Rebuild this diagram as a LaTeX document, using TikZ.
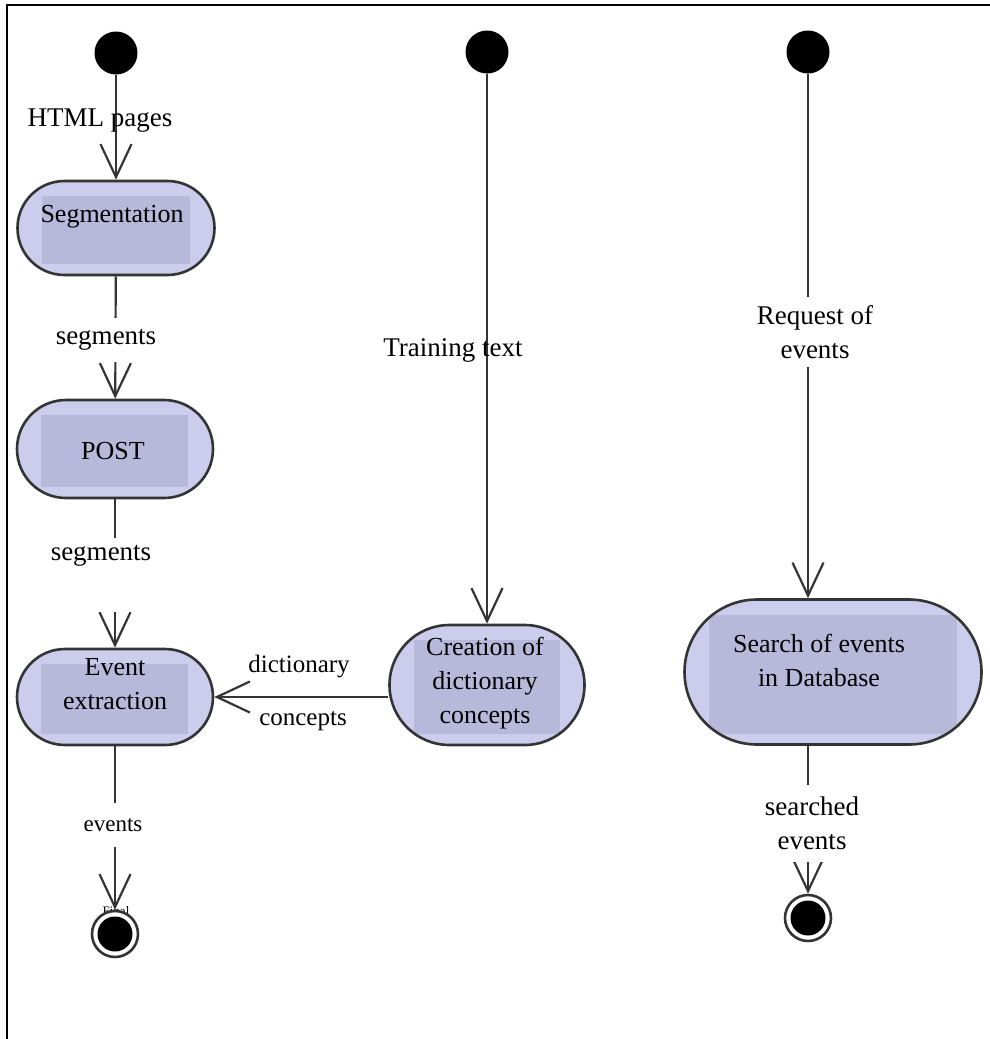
\documentclass[tikz,border=0pt]{standalone}
\usepackage{fontspec}
\setmainfont{Liberation Serif}
\usetikzlibrary{arrows.meta,shapes.misc}
\definecolor{lavout}{RGB}{204,204,236}
\definecolor{lavin}{RGB}{184,184,218}
\definecolor{edgegray}{RGB}{52,52,52}
\begin{document}
\begin{tikzpicture}[x=1pt,y=-1pt,
  act/.style={rounded rectangle, draw=edgegray, line width=2.6pt, fill=lavout, inner sep=0pt,
    path picture={\fill[lavin] ([shift={(24pt,11pt)}]path picture bounding box.south west) rectangle ([shift={(-25pt,-15pt)}]path picture bounding box.north east);}},
  txt/.style={align=center, inner sep=0pt, font=\fontsize{26}{34}\selectfont},
  lbl/.style={align=center, inner sep=0pt, font=\fontsize{27}{34}\selectfont},
  lblw/.style={lbl, fill=white, minimum width=112pt},
  startn/.style={circle, fill=black, minimum size=43pt, inner sep=0pt},
  endn/.style={circle, draw=edgegray, line width=2.6pt, fill=white, minimum size=46pt, inner sep=0pt,
    path picture={\fill[black] (path picture bounding box.center) circle (17.5pt);}},
  conn/.style={draw=edgegray, line width=2.2pt, -{Straight Barb[length=33pt,width=31pt]}},
  gapw/.style={fill=white, inner sep=0pt, minimum width=30pt}
]
\useasboundingbox (0,0) rectangle (990,1039);
% frame
\draw[line width=2pt, black] (990,5) -- (7,5) -- (7,1039);

% start nodes
\node[startn] (s1) at (116,53) {};
\node[startn] (s2) at (487,52) {};
\node[startn] (s3) at (808,52) {};

% activities
\node[act, minimum width=197pt, minimum height=94pt] (seg) at (116,228) {};
\node[txt] (segT) at (112,217) {Segmentation};
\node[act, minimum width=196pt, minimum height=98pt] (post) at (115,449) {};
\node[txt] (postT) at (113,451) {POST};
\node[act, minimum width=196pt, minimum height=96pt] (ext) at (115,697) {};
\node[txt] (extT) at (115,684) {Event\\extraction};
\node[act, minimum width=195pt, minimum height=120pt] (cre) at (487,685) {};
\node[txt] (creT) at (485,683) {Creation of\\dictionary\\concepts};
\node[act, minimum width=297pt, minimum height=145pt] (sea) at (833,672) {};
\node[txt] (seaT) at (819,660) {Search of events\\in Database};

% final text partly hidden behind end node
\node[inner sep=0pt, font=\fontsize{13}{13}\selectfont] (fin) at (116,911) {Final};

% end nodes
\node[endn] (e1) at (115,934) {};
\node[endn] (e2) at (808,918) {};

% connectors
\draw[conn] (s1) -- (seg);
\draw[conn] (seg) -- (post);
\draw[conn] (post) -- (ext);
\draw[conn] (ext) -- (e1);
\draw[conn] (s2) -- (cre);
\draw[conn] (ext.east -| cre.west) -- (ext.east);
\draw[conn] (s3) -- (sea.north -| s3);
\draw[conn] (sea.south -| s3) -- (e2);

% labels
\node[lbl] (l1) at (100,121) {HTML pages};
\node[lblw, minimum height=44pt] (l2) at (106,340) {segments};
\node[gapw, minimum height=74pt] (g3) at (115,575) {};
\node[lbl] (l3) at (101,556) {segments};
\node[lblw, minimum height=44pt, font=\fontsize{23}{28}\selectfont] (l4) at (113,825) {events};
\node[lbl] (l5) at (453,350) {Training text};
\node[lblw, minimum height=70pt, minimum width=140pt] (l6) at (815,332) {Request of\\events};
\node[lblw, minimum height=77pt, minimum width=120pt] (l7) at (812,823) {searched\\events};
\node[lbl, font=\fontsize{25}{30}\selectfont] (l8) at (299,667) {dictionary};
\node[lbl, font=\fontsize{25}{30}\selectfont] (l9) at (303,721) {concepts};
\end{tikzpicture}
\end{document}
